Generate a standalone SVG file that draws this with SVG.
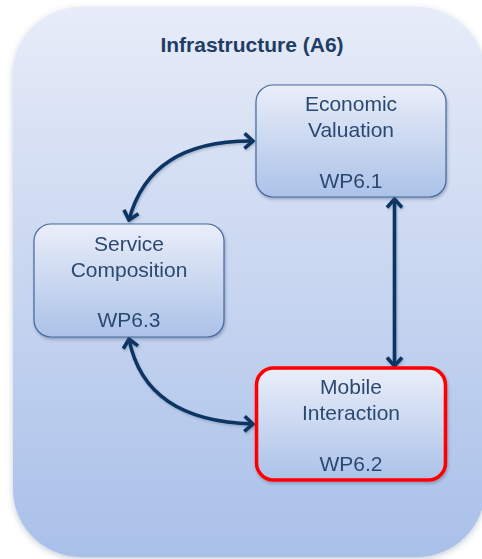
<svg xmlns="http://www.w3.org/2000/svg" width="482" height="559" viewBox="0 0 482 559">
  <defs>
    <linearGradient id="bgGrad" x1="0" y1="0" x2="0" y2="1">
      <stop offset="0" stop-color="#e7ecf8"/>
      <stop offset="1" stop-color="#a9c0e9"/>
    </linearGradient>
    <linearGradient id="nodeGrad" x1="0" y1="0" x2="0" y2="1">
      <stop offset="0" stop-color="#eaeef9"/>
      <stop offset="1" stop-color="#abc2e8"/>
    </linearGradient>
    <filter id="softShadow" x="-10%" y="-10%" width="120%" height="120%">
      <feDropShadow dx="0" dy="2" stdDeviation="3" flood-color="#5a6f90" flood-opacity="0.35"/>
    </filter>
    <filter id="nodeShadow" x="-10%" y="-10%" width="125%" height="130%">
      <feDropShadow dx="1" dy="2" stdDeviation="1.5" flood-color="#30456a" flood-opacity="0.35"/>
    </filter>
    <filter id="lineShadow" x="-20%" y="-20%" width="140%" height="140%">
      <feDropShadow dx="1" dy="1.5" stdDeviation="1.2" flood-color="#30456a" flood-opacity="0.3"/>
    </filter>
    <marker id="chev" viewBox="-12 -10 14 20" refX="0" refY="0" markerWidth="14" markerHeight="20" markerUnits="userSpaceOnUse" orient="auto-start-reverse">
      <path d="M -8.5,-7.5 L 0,0 L -8.5,7.5" fill="none" stroke="#0f3563" stroke-width="3.6" stroke-linejoin="miter" stroke-linecap="butt"/>
    </marker>
    <style>
      .node-box { fill: url(#nodeGrad); stroke: #44699c; stroke-width: 1.2; }
      .node-box.active { stroke: #ff0000; stroke-width: 3.6; }
      .label { font-family: "Liberation Sans", Arial, sans-serif; font-size: 21px; fill: #2c4a72; text-anchor: middle; }
      .title { font-family: "Liberation Sans", Arial, sans-serif; font-size: 21px; font-weight: bold; fill: #1f3d66; text-anchor: middle; }
      .link { fill: none; stroke: #0f3563; stroke-width: 3.6; marker-start: url(#chev); marker-end: url(#chev); }
    </style>
  </defs>

  <!-- container panel -->
  <g id="infrastructure">
    <rect x="13" y="7" width="472" height="550" rx="68" ry="68" fill="url(#bgGrad)" filter="url(#softShadow)"/>
    <text class="title" x="252" y="52">Infrastructure (A6)</text>
  </g>

  <!-- connectors -->
  <g id="connectors" filter="url(#lineShadow)">
    <path class="link" d="M 129,220 Q 150,140 253,141"/>
    <path class="link" d="M 394.5,199 L 394.5,366"/>
    <path class="link" d="M 129,339 Q 145,421 253,424"/>
  </g>

  <g id="wp61" filter="url(#nodeShadow)">
    <rect class="node-box" x="256" y="85" width="190" height="112" rx="17" ry="17"/>
    <text class="label" x="351" y="111">Economic</text>
    <text class="label" x="351" y="137">Valuation</text>
    <text class="label" x="351" y="188">WP6.1</text>
  </g>

  <g id="wp63" filter="url(#nodeShadow)">
    <rect class="node-box" x="34" y="224" width="190" height="113" rx="17" ry="17"/>
    <text class="label" x="129" y="251">Service</text>
    <text class="label" x="129" y="277">Composition</text>
    <text class="label" x="129" y="327">WP6.3</text>
  </g>

  <g id="wp62" filter="url(#nodeShadow)">
    <rect class="node-box active" x="256.5" y="368" width="189" height="112" rx="17" ry="17"/>
    <text class="label" x="351" y="394">Mobile</text>
    <text class="label" x="351" y="420">Interaction</text>
    <text class="label" x="351" y="471">WP6.2</text>
  </g>
</svg>
